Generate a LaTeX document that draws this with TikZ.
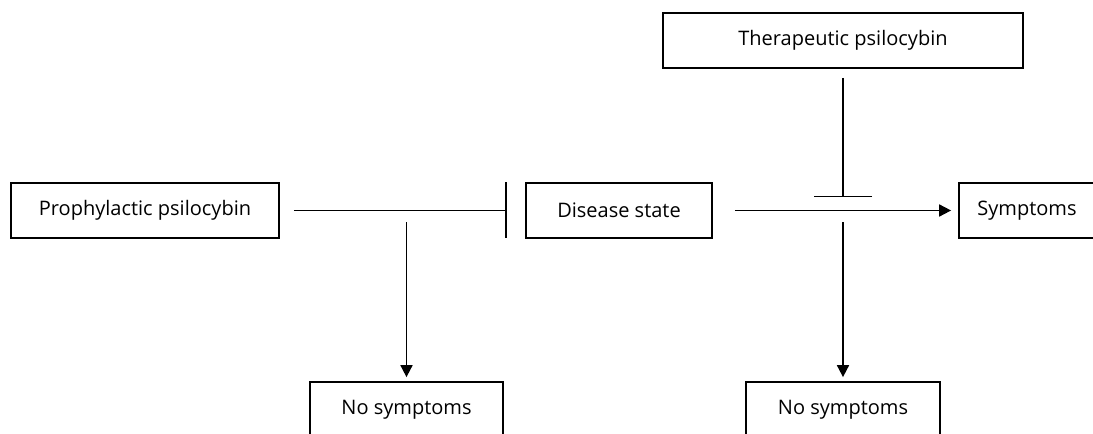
\documentclass[tikz,border=0pt]{standalone}
\usepackage{fontspec}
\setmainfont{Open Sans}
\usetikzlibrary{arrows.meta}
\begin{document}
\begin{tikzpicture}[x=0.75pt,y=-0.75pt,
  box/.style={draw,line width=1.3pt,inner sep=0pt,minimum height=55*0.75pt,font=\fontsize{15}{18}\selectfont},
  conn/.style={line width=1.3pt},
  inhib/.style={conn,-{Bar[width=#1*0.75pt,line width=1.3pt]}},
  act/.style={conn,-{Triangle[length=12*0.75pt,width=12*0.75pt]}}]
\clip (0,0) rectangle (1093,434);
\node[box,minimum width=268*0.75pt] (proph) at (145,210.5) {Prophylactic psilocybin};
\node[box,minimum width=186*0.75pt] (disease) at (619,210.5) {Disease state};
\node[box,minimum width=360*0.75pt] (thera) at (843,40.5) {Therapeutic psilocybin};
\node[box,minimum width=136*0.75pt] (symp) at (1027,210.5) {Symptoms};
\node[box,minimum width=193*0.75pt] (nos1) at (406.5,409.5) {No symptoms};
\node[box,minimum width=194*0.75pt] (nos2) at (843,409.5) {No symptoms};
% prophylactic inhibits disease state
\draw[inhib=56,shorten <=14*0.75pt,shorten >=18*0.75pt] (proph.east) -- (disease.west);
% disease state leads to symptoms
\draw[act,shorten <=22*0.75pt,shorten >=7*0.75pt] (disease.east) -- (symp.west);
% therapeutic inhibits the transition
\coordinate (j2) at (thera.south |- disease.east);
\draw[inhib=58,shorten <=9*0.75pt,shorten >=13*0.75pt] (thera.south) -- (j2);
\draw[act,shorten <=12*0.75pt,shorten >=4*0.75pt] (j2) -- (nos2.north);
% prophylactic leads to no symptoms
\coordinate (j1) at (nos1.north |- proph.east);
\draw[act,shorten <=12*0.75pt,shorten >=4*0.75pt] (j1) -- (nos1.north);
\end{tikzpicture}
\end{document}
